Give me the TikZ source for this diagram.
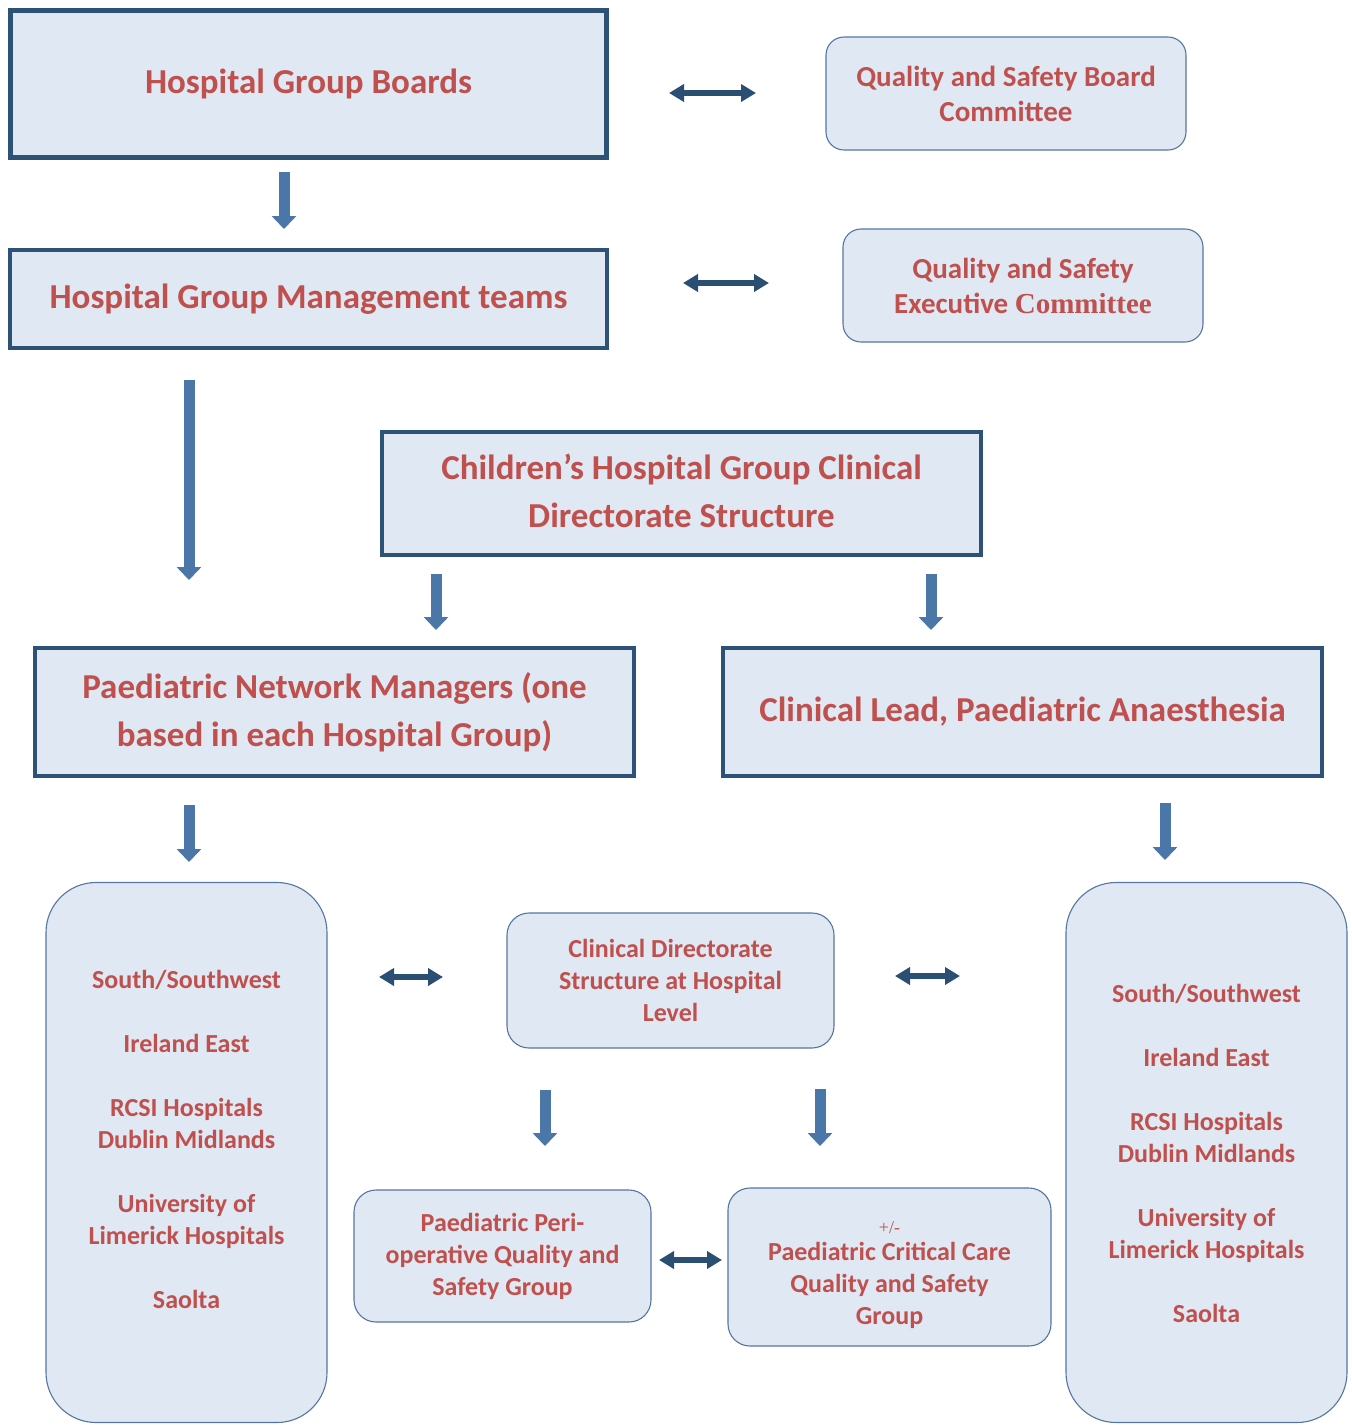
\documentclass[tikz,border=0pt]{standalone}
\usepackage{fontspec}
\setmainfont{Carlito}
\newfontfamily\serifb{Liberation Serif}
\usetikzlibrary{arrows.meta}
\definecolor{boxfill}{HTML}{DFE8F3}
\definecolor{txtred}{HTML}{C0504D}
\definecolor{thickb}{HTML}{2E5276}
\definecolor{thinb}{HTML}{5575A2}
\definecolor{arrblue}{HTML}{4A76A8}
\definecolor{dkblue}{HTML}{2B4E73}
\tikzset{
  basebox/.style={fill=boxfill, text=txtred, align=center, inner sep=0pt, font=\bfseries},
  sqbox/.style={basebox, draw=thickb, line width=4pt},
  rbox/.style={basebox, draw=thinb, line width=1.1pt, rounded corners=#1},
  rbox/.default=18pt,
  bigtxt/.style={font=\fontsize{35}{48}\selectfont\bfseries},
  midtxt/.style={font=\fontsize{29}{35}\selectfont\bfseries},
  smltxt/.style={font=\fontsize{26}{32}\selectfont\bfseries},
  downarr/.style={line width=11pt, draw=arrblue, -{Triangle[width=24pt,length=13pt]}},
  dblarr/.style={line width=6pt, draw=dkblue, {Triangle[width=17pt,length=15pt]}-{Triangle[width=17pt,length=15pt]}},
  plain/.style={text=txtred, align=center, inner sep=0pt}
}
\begin{document}
\begin{tikzpicture}[x=1pt,y=-1pt]
\useasboundingbox (0,0) rectangle (1352,1425);
% boxes
\node[sqbox, bigtxt, line width=5pt, minimum width=596pt, minimum height=147pt] (boards) at (308.5,84) {Hospital Group Boards};
\node[rbox, midtxt, minimum width=360pt, minimum height=113pt] (qsb) at (1006,93.5) {Quality and Safety Board\\Committee};
\node[sqbox, bigtxt, minimum width=597pt, minimum height=98pt] (mgmt) at (308.5,299) {Hospital Group Management teams};
\node[rbox, midtxt, minimum width=360pt, minimum height=113pt] (qse) at (1023,285.5) {Quality and Safety\\Executive {\serifb\bfseries Committee}};
\node[sqbox, bigtxt, minimum width=599pt, minimum height=123pt] (child) at (681.5,493.5) {};
\node[plain, bigtxt] (childtxt) at (681.5,490.5) {Children’s Hospital Group Clinical\\Directorate Structure};
\node[sqbox, bigtxt, minimum width=599pt, minimum height=128pt] (pnm) at (334.5,712) {Paediatric Network Managers (one\\based in each Hospital Group)};
\node[sqbox, bigtxt, minimum width=599pt, minimum height=128pt] (lead) at (1022.5,712) {Clinical Lead, Paediatric Anaesthesia};
\node[rbox=50pt, minimum width=281pt, minimum height=540pt] (lbox) at (186.5,1152.5) {};
\node[rbox=50pt, minimum width=281pt, minimum height=540pt] (rbox) at (1206.5,1152.5) {};
\node[plain, smltxt] (ltxt) at (186.5,1139.5) {South/Southwest\\[32pt]Ireland East\\[32pt]RCSI Hospitals\\Dublin Midlands\\[32pt]University of\\Limerick Hospitals\\[32pt]Saolta};
\node[plain, smltxt] (rtxt) at (1206.5,1153.5) {South/Southwest\\[32pt]Ireland East\\[32pt]RCSI Hospitals\\Dublin Midlands\\[32pt]University of\\Limerick Hospitals\\[32pt]Saolta};
\node[rbox=22pt, smltxt, minimum width=327pt, minimum height=135pt] (cdh) at (670.5,980.5) {Clinical Directorate\\Structure at Hospital\\Level};
\node[rbox=22pt, smltxt, minimum width=297pt, minimum height=132pt] (peri) at (502.5,1256) {Paediatric Peri-\\operative Quality and\\Safety Group};
\node[rbox=22pt, minimum width=323pt, minimum height=158pt] (crit) at (889.5,1267) {};
\node[plain, font=\fontsize{18}{20}\selectfont\serifb] (pm) at (889.5,1228) {+/-};
\node[plain, smltxt] (crittxt) at (889.5,1285) {Paediatric Critical Care\\Quality and Safety\\Group};
% arrow end coordinates
\coordinate (d1a) at (284,172);  \coordinate (d1b) at (284,229);
\coordinate (d2a) at (189,380);  \coordinate (d2b) at (189,580);
\coordinate (d3a) at (436,574);  \coordinate (d3b) at (436,630);
\coordinate (d4a) at (931,574);  \coordinate (d4b) at (931,630);
\coordinate (d5a) at (189,805);  \coordinate (d5b) at (189,862);
\coordinate (d6a) at (1165,803); \coordinate (d6b) at (1165,860);
\coordinate (d7a) at (545,1090); \coordinate (d7b) at (545,1146);
\coordinate (d8a) at (820,1089); \coordinate (d8b) at (820,1146);
\coordinate (h1a) at (669,93);   \coordinate (h1b) at (756,93);
\coordinate (h2a) at (683,283);  \coordinate (h2b) at (769,283);
\coordinate (h3a) at (379,977);  \coordinate (h3b) at (443,977);
\coordinate (h4a) at (895,976);  \coordinate (h4b) at (960,976);
\coordinate (h5a) at (659,1260); \coordinate (h5b) at (722,1260);
% arrows
\foreach \n in {1,...,8} {\draw[downarr] (d\n a) -- (d\n b);}
\foreach \n in {1,...,5} {\draw[dblarr] (h\n a) -- (h\n b);}
\end{tikzpicture}
\end{document}
